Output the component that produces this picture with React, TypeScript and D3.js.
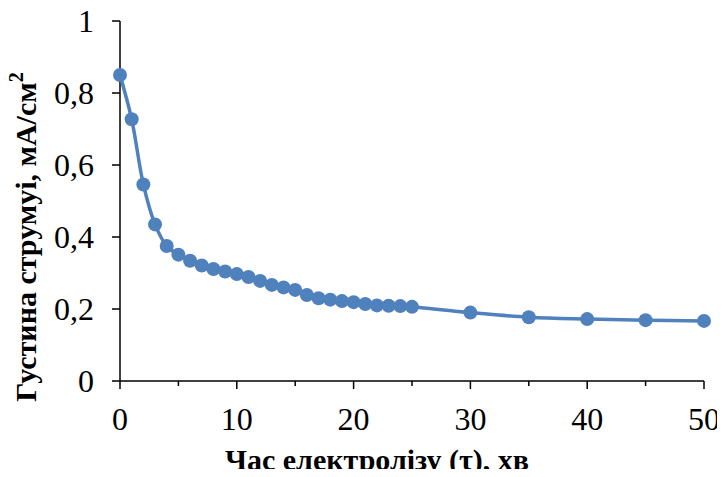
import React from "react";
import * as d3 from "d3";

// time of electrolysis, min
const timeMin = [
  0, 1, 2, 3, 4, 5, 6, 7, 8, 9, 10, 11, 12, 13, 14, 15, 16, 17, 18, 19, 20,
  21, 22, 23, 24, 25, 30, 35, 40, 45, 50,
];
// current density, mA/cm2
const density = [
  0.85, 0.727, 0.546, 0.435, 0.375, 0.351, 0.334, 0.321, 0.311, 0.304, 0.297,
  0.289, 0.278, 0.267, 0.26, 0.253, 0.239, 0.23, 0.226, 0.222, 0.219,
  0.214, 0.21, 0.209, 0.208, 0.206, 0.19, 0.177, 0.172, 0.169, 0.167,
];
const xTicks = [0, 10, 20, 30, 40, 50];
const xMinorTicks = [5, 15, 25, 35, 45];
const yTicks = [0, 0.2, 0.4, 0.6, 0.8, 1];

const W = 725;
const H = 477;
const COLOR = "#4f81bd";
const serif: React.CSSProperties = { fontFamily: "'Liberation Serif', 'Times New Roman', serif" };

const x = d3.scaleLinear().domain([0, 50]).range([120, 704]);
const y = d3.scaleLinear().domain([0, 1]).range([381, 21]);

const fmtY = (d: number) =>
  d === 0 || d === 1 ? String(d) : d.toFixed(1).replace(".", ",");

export default function App() {
  const pts = timeMin.map((t, i) => [t, density[i]] as [number, number]);
  const line = d3
    .line<[number, number]>()
    .x((d) => x(d[0]))
    .y((d) => y(d[1]))
    .curve(d3.curveCatmullRom.alpha(0.5));

  return (
    <div style={{ margin: "-8px", width: W, height: H, ...serif }}>
      <svg width={W} height={H} style={{ display: "block" }}>
        <rect width={W} height={H} fill="#fff" />
        {/* x axis */}
        <g transform={`translate(0,${y(0)})`} stroke="#000" strokeWidth={1.5}>
          <line x1={x(0)} x2={x(50)} />
          {xTicks.map((d) => (
            <line key={"M" + d} x1={x(d)} x2={x(d)} y1={0} y2={8} />
          ))}
          {xMinorTicks.map((d) => (
            <line key={"m" + d} x1={x(d)} x2={x(d)} y1={0} y2={5} />
          ))}
        </g>
        {xTicks.map((d) => (
          <text key={"xt" + d} x={x(d)} y={y(0) + 49} textAnchor="middle" fontSize={32} style={serif}>
            {d}
          </text>
        ))}

        {/* y axis */}
        <g transform={`translate(${x(0)},0)`} stroke="#000" strokeWidth={1.5}>
          <line y1={y(0)} y2={y(1)} />
          {yTicks.map((d) => (
            <line key={"yl" + d} x1={-8} x2={0} y1={y(d)} y2={y(d)} />
          ))}
        </g>
        {yTicks.map((d) => (
          <text
            key={"yt" + d}
            x={x(0) - 26}
            y={y(d) + 11}
            textAnchor="end"
            fontSize={32}
            style={serif}
          >
            {fmtY(d)}
          </text>
        ))}

        {/* series */}
        <path d={line(pts) ?? ""} fill="none" stroke={COLOR} strokeWidth={3.5} />
        {pts.map((d) => (
          <circle key={"c" + d[0]} cx={x(d[0])} cy={y(d[1])} r={7} fill={COLOR} />
        ))}

        {/* axis titles */}
        <text x={377} y={470} textAnchor="middle" fontSize={30} fontWeight="bold" style={serif}>
          Час електролізу (τ), хв
        </text>
        <text
          transform="translate(36,237) rotate(-90)"
          textAnchor="middle"
          fontSize={30}
          fontWeight="bold"
          style={serif}
        >
          <tspan>Густина струмуі, мА/см</tspan>
          <tspan dy={-13} fontSize={20}>
            2
          </tspan>
        </text>
      </svg>
    </div>
  );
}
